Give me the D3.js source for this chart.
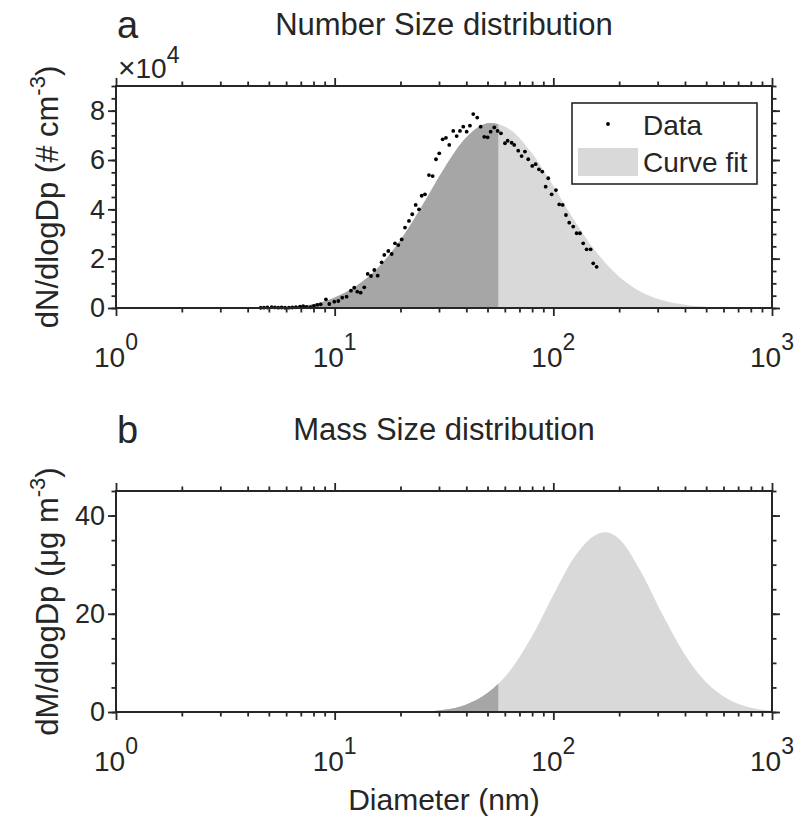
<!DOCTYPE html>
<html>
<head>
<meta charset="utf-8">
<script src="https://cdn.jsdelivr.net/npm/d3@7"></script>
<style>
  body { margin: 0; background: #fff; }
  svg text { font-family: "Liberation Sans", Arial, Helvetica, sans-serif; fill: #262626; }
</style>
</head>
<body>
<script>
// ---- data ----
// measured number size distribution (diameter in nm, dN/dlogDp in # cm^-3)
var dataDiam = [4.59, 4.75, 4.92, 5.15, 5.33, 5.52, 5.72, 5.93, 6.18, 6.40, 6.65, 6.94, 7.18, 7.45, 7.77, 8.04, 8.33, 8.63,
  9.12, 9.45, 9.96, 10.39, 10.83, 11.34, 11.87, 12.29, 12.69, 13.15, 13.66, 14.16, 14.66, 15.18, 15.73, 16.40, 16.86,
  17.59, 18.23, 18.87, 19.54, 20.25, 20.97, 21.87, 22.64, 23.47, 24.30, 25.00, 25.88, 26.99, 28.06, 29.06, 30.08,
  31.18, 32.28, 33.42, 34.86, 36.13, 37.41, 38.73, 40.14, 41.56, 43.03, 44.87, 46.52, 48.31, 50.07, 51.68, 53.68,
  55.64, 57.61, 60.09, 61.81, 64.46, 66.25, 69.10, 71.61, 74.15, 76.77, 80.08, 83.01, 85.95, 89.00, 92.23, 94.78,
  98.22, 102.8, 106.4, 110.3, 114.2, 118.2, 123.3, 127.8, 132.3, 137.0, 142.0, 148.1, 152.2, 157.8];
var dataN = [100, 150, 200, 350, 250, 150, 200, 100, 150, 200, 300, 550, 700, 450, 300, 900, 1300, 1500,
  3530, 1620, 2550, 2840, 4190, 4590, 7030, 8240, 6620, 6220, 8380, 13800, 12970, 15400, 13100, 18500, 21500,
  23100, 21900, 26200, 25500, 27800, 32600, 35300, 38000, 41800, 40000, 45500, 46100, 53900, 53500, 60300, 62700,
  68400, 69000, 66100, 71800, 69700, 71800, 73500, 71500, 73900, 78600, 77200, 73500, 69400, 69200, 71500, 73200,
  71800, 70800, 66800, 67800, 67000, 66100, 63800, 61600, 63400, 60300, 57600, 58300, 56200, 55300, 49200, 52600,
  46100, 47800, 42000, 41800, 37700, 34600, 33000, 30300, 30300, 26200, 23800, 23800, 18100, 16700];

// fitted number curve
var numFitDiam = [3.98, 5.01, 6.31, 7.94, 10, 12.59, 15.85, 19.95, 25.12, 31.62, 39.81, 51.3, 63.1, 79.43, 100,
  125.9, 158.5, 199.5, 251.2, 316.2, 398.1, 501.2, 631, 794.3, 1000];
var numFitVal = [0, 150, 500, 1500, 4300, 9000, 16500, 27500, 41500, 56500, 69000, 75000, 72500, 63000, 49500,
  35000, 22300, 12800, 6600, 3100, 1300, 500, 170, 50, 15];

// fitted mass curve (ug m^-3)
var massFitDiam = [19.95, 25.12, 31.62, 39.81, 50.12, 63.1, 79.43, 100, 125.9, 158.5, 173.8, 199.5, 251.2, 316.2,
  398.1, 501.2, 631, 794.3, 1000];
var massFitVal = [0, 0.1, 0.45, 1.5, 3.9, 8.3, 15.2, 23.8, 31.8, 36.2, 36.6, 35.3, 28.6, 19.8, 11.8, 6.0, 2.6, 0.9, 0.3];

var splitDiam = 56;            // boundary between dark and light shading
var xMajor = [1, 10, 100, 1000];
var xExp = ["0", "1", "2", "3"];
var numTicks = [0, 20000, 40000, 60000, 80000];
var numTickLabels = ["0", "2", "4", "6", "8"];
var massTicks = [0, 20, 40];
var massTickLabels = ["0", "20", "40"];

// ---- layout ----
var W = 802, H = 822;
var left = 116, right = 772;
var ink = "#262626", darkFill = "#a6a6a6", lightFill = "#d9d9d9";

var svg = d3.select("body").append("svg").attr("width", W).attr("height", H);
var x = d3.scaleLog().domain([1, 1000]).range([left, right]);
var xMinor = x.ticks().filter(function (d) { return xMajor.indexOf(d) < 0; });

function drawPanel(p) {
  var y = d3.scaleLinear().domain([0, p.yMax]).range([p.bottom, p.top]);
  var g = svg.append("g");

  var area = d3.area()
    .x(function (d) { return x(d[0]); })
    .y0(y(0))
    .y1(function (d) { return y(d[1]); })
    .curve(d3.curveMonotoneX);
  var pts = p.fitDiam.map(function (d, i) { return [d, p.fitVal[i]]; });

  g.append("clipPath").attr("id", "clip" + p.id)
    .append("rect").attr("x", left).attr("y", p.top).attr("width", x(splitDiam) - left).attr("height", p.bottom - p.top);

  g.append("path").datum(pts).attr("d", area).attr("fill", lightFill);
  g.append("path").datum(pts).attr("d", area).attr("fill", darkFill).attr("clip-path", "url(#clip" + p.id + ")");

  if (p.dots) {
    g.selectAll("circle.dot").data(p.dots).enter().append("circle")
      .attr("class", "dot")
      .attr("cx", function (d) { return x(d[0]); })
      .attr("cy", function (d) { return y(d[1]); })
      .attr("r", 1.9).attr("fill", "#000");
  }

  // ticks on all four sides, pointing out
  function ticks(axis, tr, vals, size) {
    var a = g.append("g").attr("transform", tr)
      .call(axis.tickValues(vals).tickSize(size).tickSizeOuter(0).tickFormat(""));
    a.select(".domain").remove();
    a.selectAll("line").attr("stroke", ink).attr("stroke-width", 1.8);
  }
  ticks(d3.axisBottom(x), "translate(0," + p.bottom + ")", xMajor, 8);
  ticks(d3.axisBottom(x), "translate(0," + p.bottom + ")", xMinor, 4.5);
  ticks(d3.axisTop(x), "translate(0," + p.top + ")", xMajor, 8);
  ticks(d3.axisTop(x), "translate(0," + p.top + ")", xMinor, 4.5);
  ticks(d3.axisLeft(y), "translate(" + left + ",0)", p.yTicks, 8);
  ticks(d3.axisLeft(y), "translate(" + left + ",0)", p.yMinor, 4.5);
  ticks(d3.axisRight(y), "translate(" + right + ",0)", p.yTicks, 8);
  ticks(d3.axisRight(y), "translate(" + right + ",0)", p.yMinor, 4.5);

  g.append("rect").attr("x", left).attr("y", p.top)
    .attr("width", right - left).attr("height", p.bottom - p.top)
    .attr("fill", "none").attr("stroke", ink).attr("stroke-width", 2);

  // x tick labels 10^n
  var xl = g.selectAll("text.xl").data(xMajor).enter().append("text")
    .attr("class", "xl")
    .attr("x", function (d) { return x(d); })
    .attr("y", p.bottom + 59)
    .attr("text-anchor", "middle").attr("font-size", 28);
  xl.append("tspan").text("10");
  xl.append("tspan").attr("dy", -17).attr("font-size", 23).text(function (d, i) { return xExp[i]; });

  // y tick labels
  g.selectAll("text.yl").data(p.yTicks).enter().append("text")
    .attr("class", "yl")
    .attr("x", left - 11)
    .attr("y", function (d) { return y(d); })
    .attr("dy", "0.35em")
    .attr("text-anchor", "end").attr("font-size", 27)
    .text(function (d, i) { return p.yTickLabels[i]; });

  // y label
  var yl = g.append("text")
    .attr("transform", "translate(58," + ((p.top + p.bottom) / 2) + ") rotate(-90)")
    .attr("text-anchor", "middle").attr("font-size", 31);
  yl.append("tspan").text(p.yLabel);
  yl.append("tspan").attr("dy", -13).attr("font-size", 22).text("-3");
  yl.append("tspan").attr("dy", 13).text(")");

  // title and panel letter
  g.append("text").attr("x", (left + right) / 2).attr("y", p.top - 51)
    .attr("text-anchor", "middle").attr("font-size", 31).text(p.title);
  g.append("text").attr("x", 117).attr("y", p.top - 48)
    .attr("font-size", 38).text(p.letter);
  return y;
}

drawPanel({
  id: "a", top: 86, bottom: 308, yMax: 90000,
  yTicks: numTicks, yTickLabels: numTickLabels,
  yMinor: d3.range(0, 90001, 5000),
  fitDiam: numFitDiam, fitVal: numFitVal,
  dots: dataDiam.map(function (d, i) { return [d, dataN[i]]; }),
  yLabel: "dN/dlogDp (# cm",
  title: "Number Size distribution", letter: "a"
});

drawPanel({
  id: "b", top: 491, bottom: 712, yMax: 45,
  yTicks: massTicks, yTickLabels: massTickLabels,
  yMinor: d3.range(0, 46, 5),
  fitDiam: massFitDiam, fitVal: massFitVal,
  dots: null,
  yLabel: "dM/dlogDp (\u03bcg m",
  title: "Mass Size distribution", letter: "b"
});

// x10^4 exponent label
var ex = svg.append("text").attr("x", 118).attr("y", 78).attr("font-size", 28);
ex.append("tspan").attr("font-size", 30).text("\u00d7");
ex.append("tspan").text("10");
ex.append("tspan").attr("dy", -15).attr("font-size", 23).text("4");

// legend
var lg = svg.append("g");
lg.append("rect").attr("x", 572).attr("y", 103).attr("width", 185).attr("height", 81)
  .attr("fill", "#fff").attr("stroke", ink).attr("stroke-width", 1.6);
lg.append("circle").attr("cx", 608).attr("cy", 124).attr("r", 1.9).attr("fill", "#000");
lg.append("text").attr("x", 643).attr("y", 135).attr("font-size", 28).text("Data");
lg.append("rect").attr("x", 578).attr("y", 148).attr("width", 60).attr("height", 28).attr("fill", lightFill);
lg.append("text").attr("x", 643).attr("y", 172).attr("font-size", 28).text("Curve fit");

// x axis label
svg.append("text").attr("x", (left + right) / 2).attr("y", 810)
  .attr("text-anchor", "middle").attr("font-size", 30).text("Diameter (nm)");
</script>
</body>
</html>
